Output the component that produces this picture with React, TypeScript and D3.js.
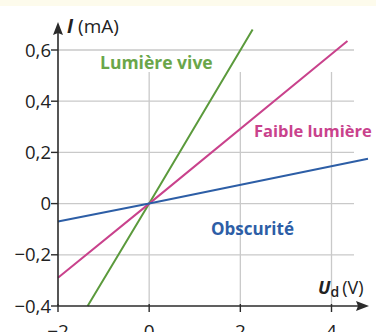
import React, { useEffect, useRef } from 'react';
import * as d3 from 'd3';

const width = 376, height = 332;

// axis ticks
const xTicks = [-2, 0, 2, 4];
const xTickLabels = ['\u22122', '0', '2', '4'];
const yTicks = [-0.4, -0.2, 0, 0.2, 0.4, 0.6];
const yTickLabels = ['\u22120,4', '\u22120,2', '0', '0,2', '0,4', '0,6'];

// series: end points [U (V), I (mA)]
const seriesNames = ['Lumière vive', 'Faible lumière', 'Obscurité'];
const lumiereVive = [[-1.35, -0.4], [0, 0], [2.27, 0.68]];
const faibleLumiere = [[-2, -0.29], [0, 0], [4.35, 0.635]];
const obscurite = [[-2, -0.07], [0, 0], [4.8, 0.175]];

const colors = ['#5b9a3c', '#c9428c', '#2d5ea6'];
const labelColors = ['#6aa64a', '#c9428c', '#2d5ea6'];

const App = () => {
    const ref = useRef(null);

    useEffect(() => {
        const svg = d3.select(ref.current);
        svg.selectAll('*').remove();

        const x = d3.scaleLinear().domain([-2, 4]).range([58, 331.5]);
        const y = d3.scaleLinear().domain([-0.4, 0.6]).range([306, 50]);

        const font = '"Open Sans", "Noto Sans", sans-serif';

        svg.append('rect')
            .attr('width', width).attr('height', height)
            .attr('fill', '#fff');
        svg.append('rect')
            .attr('width', width).attr('height', 6)
            .attr('fill', '#fdfbec');

        // horizontal grid
        svg.selectAll('.hgrid')
            .data(yTicks.filter(d => d > -0.4))
            .enter()
            .append('line')
            .attr('x1', x(-2)).attr('x2', 354)
            .attr('y1', d => y(d)).attr('y2', d => y(d))
            .attr('stroke', '#c9c9c9')
            .attr('stroke-width', 1.3);

        // vertical grid
        svg.selectAll('.vgrid')
            .data(xTicks.filter(d => d > -2))
            .enter()
            .append('line')
            .attr('x1', d => x(d)).attr('x2', d => x(d))
            .attr('y1', 72).attr('y2', y(-0.4))
            .attr('stroke', '#c9c9c9')
            .attr('stroke-width', 1.3);

        // lines
        const line = d3.line().x(d => x(d[0])).y(d => y(d[1]));
        [lumiereVive, faibleLumiere, obscurite].forEach((s, i) => {
            svg.append('path')
                .attr('d', line(s))
                .attr('fill', 'none')
                .attr('stroke', colors[i])
                .attr('stroke-width', 2);
        });

        // axes
        const axisColor = '#2b2b2b';
        svg.append('line')
            .attr('x1', x(-2)).attr('x2', 362)
            .attr('y1', y(-0.4)).attr('y2', y(-0.4))
            .attr('stroke', axisColor).attr('stroke-width', 1.6);
        svg.append('path')
            .attr('d', `M369,${y(-0.4)} L356,${y(-0.4) - 5} L358,${y(-0.4)} L356,${y(-0.4) + 5} Z`)
            .attr('fill', axisColor);
        svg.append('line')
            .attr('x1', x(-2)).attr('x2', x(-2))
            .attr('y1', y(-0.4)).attr('y2', 30)
            .attr('stroke', axisColor).attr('stroke-width', 1.6);
        svg.append('path')
            .attr('d', `M${x(-2)},22 L${x(-2) - 5},35 L${x(-2)},33 L${x(-2) + 5},35 Z`)
            .attr('fill', axisColor);

        // x ticks
        svg.selectAll('.xtick')
            .data(xTicks)
            .enter()
            .append('line')
            .attr('x1', d => x(d)).attr('x2', d => x(d))
            .attr('y1', y(-0.4) - 2).attr('y2', y(-0.4) + 6)
            .attr('stroke', axisColor).attr('stroke-width', 1.4);
        svg.selectAll('.xlabel')
            .data(xTicks)
            .enter()
            .append('text')
            .attr('x', d => x(d))
            .attr('y', 338)
            .attr('text-anchor', 'middle')
            .attr('font-family', font)
            .attr('font-size', 19)
            .attr('fill', '#222')
            .text((d, i) => xTickLabels[i]);

        // y ticks
        svg.selectAll('.ytick')
            .data(yTicks)
            .enter()
            .append('line')
            .attr('x1', x(-2) - 7).attr('x2', x(-2))
            .attr('y1', d => y(d)).attr('y2', d => y(d))
            .attr('stroke', axisColor).attr('stroke-width', 1.4);
        svg.selectAll('.ylabel')
            .data(yTicks)
            .enter()
            .append('text')
            .attr('x', x(-2) - 7)
            .attr('y', d => y(d))
            .attr('dy', '0.36em')
            .attr('text-anchor', 'end')
            .attr('font-family', font)
            .attr('font-size', 18.5)
            .attr('fill', '#222')
            .text((d, i) => yTickLabels[i]);

        // axis titles
        const yTitle = svg.append('text')
            .attr('x', 67).attr('y', 33)
            .attr('font-family', font)
            .attr('font-size', 19)
            .attr('fill', '#222');
        yTitle.append('tspan').attr('font-style', 'italic').attr('font-weight', 700).text('I');
        yTitle.append('tspan').attr('dx', 5).text('(mA)');

        const xTitle = svg.append('text')
            .attr('x', 318).attr('y', 294)
            .attr('font-family', font)
            .attr('font-size', 18)
            .attr('fill', '#222');
        xTitle.append('tspan').attr('font-style', 'italic').attr('font-weight', 700).text('U');
        xTitle.append('tspan').attr('font-size', 14).attr('dy', 3).attr('font-weight', 600).text('d');
        xTitle.append('tspan').attr('dx', 3).attr('dy', -3).text('(V)');

        // series labels
        const labelPos = [[100, 69], [254, 137], [211, 235]];
        const labelSize = [17.5, 16.5, 17];
        seriesNames.forEach((name, i) => {
            svg.append('text')
                .attr('x', labelPos[i][0]).attr('y', labelPos[i][1])
                .attr('font-family', font)
                .attr('font-size', labelSize[i])
                .attr('font-weight', 700)
                .attr('fill', labelColors[i])
                .text(name);
        });
    }, []);

    return (
        <div style={{ position: 'absolute', left: 0, top: 0 }}>
            <svg ref={ref} width={width} height={height} style={{ display: 'block' }} />
        </div>
    );
};

export default App;
